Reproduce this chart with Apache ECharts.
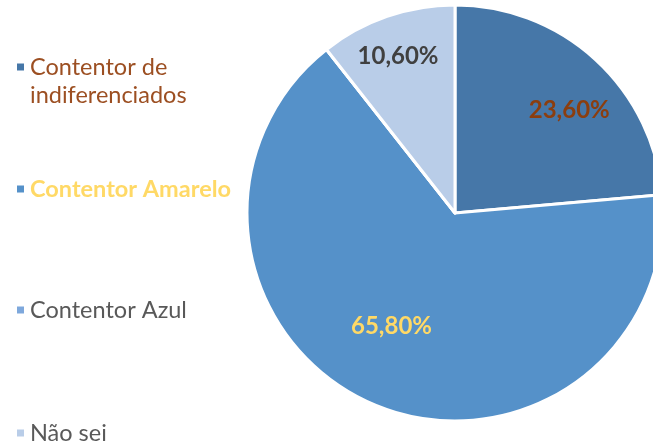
<!DOCTYPE html>
<html>
<head>
<meta charset="utf-8">
<title>Contentores</title>
<script src="https://cdn.jsdelivr.net/npm/echarts@6/dist/echarts.min.js"></script>
<style>
  html, body { margin: 0; padding: 0; background: #fff; }
  #chart { width: 653px; height: 443px; }
</style>
</head>
<body>
<div id="chart"></div>
<script>
// data
const categories = ['Contentor de indiferenciados', 'Contentor Amarelo', 'Contentor Azul', 'Não sei'];
const values = [23.6, 65.8, 0, 10.6];

// styles
const sliceColors = ['#4677a8', '#5591c9', '#7ea8dc', '#b9cde8'];
const legendTextColors = ['#9c4f22', '#ffd966', '#595959', '#595959'];
const labelColors = ['#8b3e0f', '#ffd966', '#595959', '#404040'];
const legendTops = [20, 170, 291, 414];
const labelShift = [[42, -24], [-21, 15], [0, 0], [-22, -56]];

const font = 'Lato, "Open Sans", sans-serif';

// one legend per item so each sits where the reference puts it;
// the two-line item gets a blank first line so the marker lines up with "Contentor de"
let legends = categories.map(function (name, i) {
  let two = name.indexOf(' de ') > 0;
  return {
    orient: 'vertical',
    left: 10,
    top: legendTops[i],
    itemWidth: 9,
    itemHeight: 9,
    icon: 'rect',
    data: [name],
    formatter: function (n) { return two ? ' \n' + n.replace(' de ', ' de\n') : n; },
    textStyle: {
      fontFamily: font,
      fontSize: 23.5,
      fontWeight: i === 1 ? 'bold' : 'normal',
      color: legendTextColors[i],
      lineHeight: 28
    }
  };
});

let option = {
  animation: false,
  color: sliceColors,
  legend: legends,
  series: [
    {
      type: 'pie',
      center: [455, 213],
      radius: 208,
      startAngle: 90,
      clockwise: true,
      itemStyle: { borderColor: '#fff', borderWidth: 3 },
      label: {
        show: true,
        position: 'inside',
        fontFamily: font,
        fontSize: 24,
        fontWeight: 'bold',
        formatter: function (p) {
          return p.value ? p.value.toFixed(2).replace('.', ',') + '%' : '';
        }
      },
      labelLayout: function (p) {
        return { dx: labelShift[p.dataIndex][0], dy: labelShift[p.dataIndex][1] };
      },
      labelLine: { show: false },
      emphasis: { disabled: true },
      data: categories.map(function (name, i) {
        return { name: name, value: values[i], label: { color: labelColors[i] } };
      })
    }
  ]
};

let myChart = echarts.init(document.getElementById('chart'));
myChart.setOption(option);
</script>
</body>
</html>
